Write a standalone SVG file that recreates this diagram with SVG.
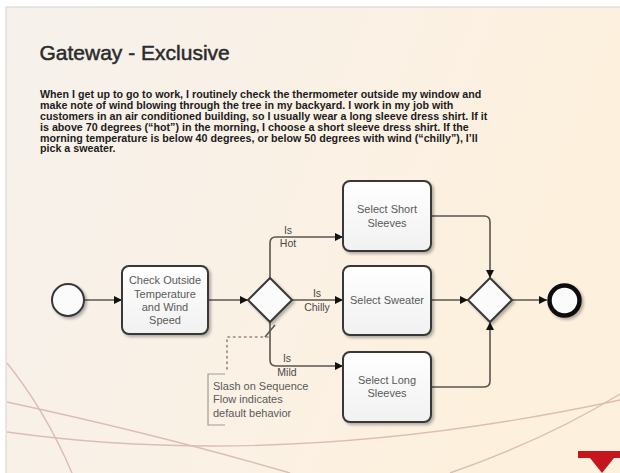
<svg xmlns="http://www.w3.org/2000/svg" width="620" height="473" viewBox="0 0 620 473">
<defs>
  <linearGradient id="bg" x1="0" y1="0" x2="1" y2="0.3">
    <stop offset="0" stop-color="#f6f1ec"/>
    <stop offset="0.6" stop-color="#fbf1e4"/>
    <stop offset="1" stop-color="#fdf0dc"/>
  </linearGradient>
  <linearGradient id="boxfill" x1="0" y1="0" x2="0" y2="1">
    <stop offset="0" stop-color="#ffffff"/>
    <stop offset="1" stop-color="#f1f1f1"/>
  </linearGradient>
  <filter id="sh" x="-20%" y="-20%" width="150%" height="150%">
    <feGaussianBlur in="SourceAlpha" stdDeviation="1.5"/>
    <feOffset dx="2" dy="2" result="b"/>
    <feComponentTransfer><feFuncA type="linear" slope="0.3"/></feComponentTransfer>
    <feMerge><feMergeNode/><feMergeNode in="SourceGraphic"/></feMerge>
  </filter>
  <marker id="arr" viewBox="0 0 10 10" refX="10" refY="5" markerWidth="8" markerHeight="8" markerUnits="userSpaceOnUse" orient="auto">
    <path d="M0,0 L10,5 L0,10 z" fill="#111"/>
  </marker>
</defs>
<style>
  .title{font-family:"Liberation Sans",Arial,sans-serif;font-size:21px;fill:#2b2b2b;stroke:#2b2b2b;stroke-width:0.5}
  .body{font-family:"Liberation Sans",Arial,sans-serif;font-size:10.7px;font-weight:bold;fill:#1c1c1c}
  .task{fill:url(#boxfill);stroke:#383838;stroke-width:2}
  .gw{fill:#fbfbfb;stroke:#383838;stroke-width:2}
  .txt{font-family:"Liberation Sans",Arial,sans-serif;font-size:11px;fill:#5a5a5a;text-anchor:middle}
  .lbl{font-family:"Liberation Sans",Arial,sans-serif;font-size:10.5px;fill:#4a4a4a;text-anchor:middle}
  .ann{font-family:"Liberation Sans",Arial,sans-serif;font-size:11px;fill:#5a5a5a}
  .flow{fill:none;stroke:#5b5650;stroke-width:1.6}
  .curve{fill:none;stroke:#dcbdb6;stroke-width:1.4}
</style>

<!-- slide background -->
<rect x="0" y="0" width="620" height="473" fill="#ffffff"/>
<rect x="6" y="7" width="620" height="470" fill="url(#bg)" stroke="#d8d4d0" stroke-width="1"/>

<!-- decorative curves -->
<g id="decor">
  <path class="curve" d="M7,363 Q45,410 72,473"/>
  <path class="curve" d="M7,402 Q160,435 290,473"/>
  <path class="curve" d="M7,432 C150,452 350,458 620,400"/>
  <path class="curve" d="M450,473 Q545,440 620,394"/>
  <rect x="578" y="451" width="42" height="7" fill="#c4161c"/>
  <path d="M590,458 L614,458 L602,473 z" fill="#c4161c"/>
</g>

<text class="title" x="39.5" y="59.5">Gateway - Exclusive</text>
<g class="body">
  <text x="40" y="98">When I get up to go to work, I routinely check the thermometer outside my window and</text>
  <text x="40" y="109">make note of wind blowing through the tree in my backyard. I work in my job with</text>
  <text x="40" y="120">customers in an air conditioned building, so I usually wear a long sleeve dress shirt. If it</text>
  <text x="40" y="131">is above 70 degrees (“hot”) in the morning, I choose a short sleeve dress shirt. If the</text>
  <text x="40" y="141.5">morning temperature is below 40 degrees, or below 50 degrees with wind (“chilly”), I’ll</text>
  <text x="40" y="152">pick a sweater.</text>
</g>

<!-- connectors -->
<g id="connectors">
  <path class="flow" d="M84,300 H122" marker-end="url(#arr)"/>
  <path class="flow" d="M208,300 H248" marker-end="url(#arr)"/>
  <path class="flow" d="M270,278 V243 Q270,237 276,237 H343" marker-end="url(#arr)"/>
  <path class="flow" d="M292,300 H343" marker-end="url(#arr)"/>
  <path class="flow" d="M270,322 V360 Q270,366 276,366 H343" marker-end="url(#arr)"/>
  <path class="flow" d="M275,325 L265,337"/>
  <path class="flow" d="M431,216 H484 Q490,216 490,222 V278" marker-end="url(#arr)"/>
  <path class="flow" d="M431,300 H468" marker-end="url(#arr)"/>
  <path class="flow" d="M431,387 H484 Q490,387 490,381 V322" marker-end="url(#arr)"/>
  <path class="flow" d="M512,300 H547" marker-end="url(#arr)"/>
  <text class="lbl" x="288" y="234">Is</text>
  <text class="lbl" x="288" y="247">Hot</text>
  <text class="lbl" x="317" y="297">Is</text>
  <text class="lbl" x="317" y="311">Chilly</text>
  <text class="lbl" x="287" y="362">Is</text>
  <text class="lbl" x="287" y="376">Mild</text>
</g>

<!-- nodes -->
<g id="start"><circle cx="68" cy="300" r="16" fill="#fbfbfb" stroke="#383838" stroke-width="2" filter="url(#sh)"/></g>

<g id="check">
  <rect class="task" x="122" y="266" width="86" height="68" rx="7" filter="url(#sh)"/>
  <text class="txt" x="165" y="284">Check Outside</text>
  <text class="txt" x="165" y="297.5">Temperature</text>
  <text class="txt" x="165" y="311">and Wind</text>
  <text class="txt" x="165" y="324">Speed</text>
</g>

<g id="gateway1"><path class="gw" d="M270,278 L292,300 L270,322 L248,300 z" filter="url(#sh)"/></g>

<g id="short">
  <rect class="task" x="343" y="181" width="88" height="70" rx="7" filter="url(#sh)"/>
  <text class="txt" x="387" y="213">Select Short</text>
  <text class="txt" x="387" y="227">Sleeves</text>
</g>

<g id="sweater">
  <rect class="task" x="343" y="266" width="88" height="69" rx="7" filter="url(#sh)"/>
  <text class="txt" x="387" y="304">Select Sweater</text>
</g>

<g id="long">
  <rect class="task" x="343" y="352" width="88" height="70" rx="7" filter="url(#sh)"/>
  <text class="txt" x="387" y="384">Select Long</text>
  <text class="txt" x="387" y="397">Sleeves</text>
</g>

<g id="gateway2"><path class="gw" d="M490,278 L512,300 L490,322 L468,300 z" filter="url(#sh)"/></g>

<g id="end"><circle cx="564.5" cy="300.5" r="15" fill="#fbfbfb" stroke="#111" stroke-width="4.5" filter="url(#sh)"/></g>

<g id="annotation">
  <path d="M268,337 H227 V373" fill="none" stroke="#8a8680" stroke-width="1.6" stroke-dasharray="1.5,4" stroke-linecap="round"/>
  <path d="M225,374 H208 V425 H225" fill="none" stroke="#a09c98" stroke-width="1.2"/>
  <text class="ann" x="213" y="390">Slash on Sequence</text>
  <text class="ann" x="213" y="403">Flow indicates</text>
  <text class="ann" x="213" y="417">default behavior</text>
</g>
</svg>
